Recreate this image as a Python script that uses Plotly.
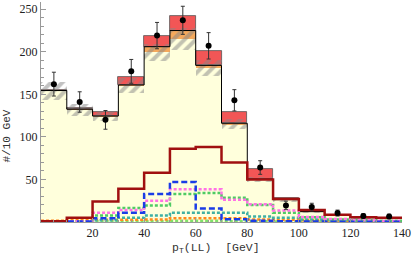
import plotly.graph_objects as go
import numpy as np

# ---- data ----
bin_edges = [0, 10, 20, 30, 40, 50, 60, 70, 80, 90, 100, 110, 120, 130, 140]
bin_centers = [5, 15, 25, 35, 45, 55, 65, 75, 85, 95, 105, 115, 125, 135]

bkg_main = [154, 132, 124, 160, 199.5, 215, 181, 115, 50, 26, 12, 8, 5, 4.5]
bkg_orange = [0.5, 0.5, 0.5, 1, 6.5, 10, 3, 1, 0.5, 0.3, 0.2, 0.1, 0.1, 0.1]
bkg_red = [0.5, 1, 4.5, 9, 12, 17, 17, 13, 12, 2, 1, 0.5, 0.5, 0.5]
bkg_unc = [11, 7, 5, 9, 10, 13, 9, 6, 3, 2, 1.5, 1, 1, 1]

data_vals = [162, 141, 120, 177, 219, 237, 207, 143, 64, 19.5, 17.5, 10.5, 7, 6.5]
data_errs = [14, 12, 11, 14, 15.5, 16.5, 15.5, 12.5, 8, 5, 4.5, 3.5, 2.7, 2.7]

sig_darkred = [0.8, 5, 24, 39, 58, 86, 88, 70, 50, 27, 14, 8.5, 5.5, 5]
sig_blue = [0.3, 0.5, 4.5, 11, 33, 47, 16, 3.2, 1.5, 1, 0.5, 0.3, 0.3, 0.3]
sig_magenta = [0.5, 1, 11, 14, 25, 38.5, 38.5, 26, 21, 13.5, 6, 3.5, 2, 1.5]
sig_green = [0.5, 1, 7.5, 16.5, 19.5, 33, 34, 28.5, 20, 11, 5.5, 3, 2, 1.5]
sig_teal = [0.3, 0.5, 2, 5, 7.5, 11, 11, 11, 6.5, 5, 3, 2, 1.5, 1]
sig_orange = [1.5, 2, 2.5, 2.5, 3, 4.5, 4.5, 4.5, 3, 2.5, 2, 1.5, 1, 1]
sig_lightgreen = [0.5, 0.5, 1, 1, 1, 1.5, 1.5, 1, 1, 0.5, 0.5, 0.5, 0.5, 0.5]

x_ticks = [20, 40, 60, 80, 100, 120, 140]
y_ticks = [50, 100, 150, 200, 250]

# ---- derived ----
main = np.array(bkg_main)
orng = np.array(bkg_orange)
redv = np.array(bkg_red)
unc = np.array(bkg_unc)


def step_y(vals):
    return list(vals) + [vals[-1]]


fig = go.Figure()

fig.add_trace(go.Bar(x=bin_centers, y=bkg_main, width=10,
                     marker=dict(color="#FFFFDC", line=dict(width=0))))
fig.add_trace(go.Bar(x=bin_centers, y=bkg_orange, base=main.tolist(), width=10,
                     marker=dict(color="#F5A95C", line=dict(width=0))))
fig.add_trace(go.Bar(x=bin_centers, y=bkg_red, base=(main + orng).tolist(), width=10,
                     marker=dict(color="#F25656", line=dict(width=0.8, color="#555555"))))
fig.add_trace(go.Bar(x=bin_centers, y=(2 * unc).tolist(), base=(main - unc).tolist(), width=10,
                     marker=dict(color="rgba(0,0,0,0)", line=dict(width=0),
                                 pattern=dict(shape="/", fgcolor="#858585",
                                              bgcolor="rgba(0,0,0,0)", size=8,
                                              solidity=0.5))))

# black outline of the main background stack
fig.add_trace(go.Scatter(x=bin_edges, y=step_y((main + orng).tolist()), mode="lines",
                         line=dict(shape="hv", color="black", width=1)))

lines = [
    (sig_lightgreen, "#7FE06A", "3px,2px"),
    (sig_orange, "#FF8A1C", "3px,2px"),
    (sig_teal, "#3FB0A4", "3px,2px"),
    (sig_green, "#4FCB64", "3px,2px"),
    (sig_magenta, "#FF72E6", "3px,2px"),
    (sig_blue, "#1A3CE6", "6px,3px"),
]
for vals, col, dash in lines:
    fig.add_trace(go.Scatter(x=bin_edges, y=step_y(vals), mode="lines",
                             line=dict(shape="hv", color=col, width=2.5, dash=dash)))

fig.add_trace(go.Scatter(x=bin_edges, y=step_y(sig_darkred), mode="lines",
                         line=dict(shape="hv", color="#A01010", width=2.5)))

fig.add_trace(go.Scatter(x=bin_centers, y=data_vals, mode="markers",
                         marker=dict(color="black", size=6),
                         error_y=dict(type="data", array=data_errs, color="#333333",
                                      thickness=1, width=2)))

fig.update_layout(
    width=415, height=256,
    margin=dict(l=41, r=13, t=2, b=34),
    paper_bgcolor="white", plot_bgcolor="white",
    showlegend=False, barmode="overlay", bargap=0,
    xaxis=dict(range=[0, 140], showgrid=False, zeroline=False, showline=True,
               linecolor="#999999", linewidth=1, ticks="inside", ticklen=4,
               tickcolor="#999999", tickvals=x_ticks,
               ticktext=[str(v) for v in x_ticks], ticklabeloverflow="allow",
               tickfont=dict(family="Liberation Serif", size=12, color="#222222"),
               minor=dict(ticks="inside", ticklen=2, dtick=5, tickcolor="#999999")),
    yaxis=dict(range=[0, 258.5], showgrid=False, zeroline=False, showline=True,
               linecolor="#999999", linewidth=1, ticks="inside", ticklen=4.5,
               tickcolor="#999999", tickvals=y_ticks,
               ticktext=[str(v) for v in y_ticks],
               tickfont=dict(family="Liberation Serif", size=12, color="#222222"),
               minor=dict(ticks="inside", ticklen=2.5, dtick=10, tickcolor="#999999")),
    annotations=[
        dict(text="p<sub>T</sub>(LL)\u00a0\u00a0[GeV]", xref="x", yref="paper",
             x=67.8, y=-0.118, yanchor="middle", xanchor="center", showarrow=False,
             font=dict(family="Liberation Mono", size=11.5, color="#333333")),
        dict(text="#/10\u00a0GeV", xref="paper", yref="y", x=-0.093, y=101,
             xanchor="center", yanchor="middle", textangle=-90, showarrow=False,
             font=dict(family="Liberation Mono", size=11, color="#333333")),
    ],
)

fig.write_html("out.html", config={"displayModeBar": False},
               post_script="document.body.style.margin='0';")
